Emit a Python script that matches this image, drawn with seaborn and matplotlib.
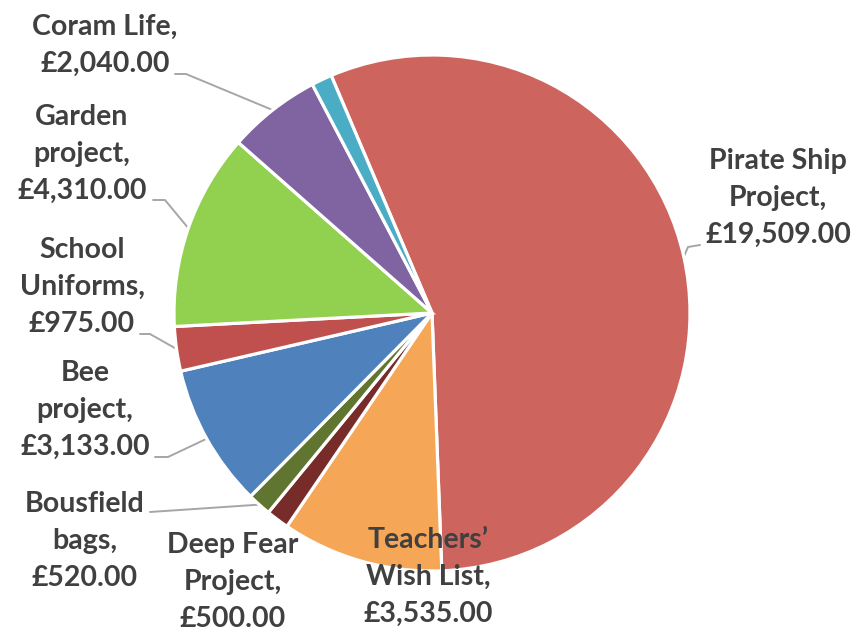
import numpy as np
import matplotlib
matplotlib.use("Agg")
import matplotlib.pyplot as plt
import seaborn as sns

# ---- data ----
projects = ["Pirate Ship Project", "Teachers\u2019 Wish List", "Deep Fear Project",
            "Bousfield bags", "Bee project", "School Uniforms", "Garden project",
            "Coram Life", ""]
amounts = [19509, 3535, 500, 520, 3133, 975, 4310, 2040, 450]
label_text = ["Pirate Ship\nProject,\n\u00a319,509.00",
              "Teachers\u2019\nWish List,\n\u00a33,535.00",
              "Deep Fear\nProject,\n\u00a3500.00",
              "Bousfield\nbags,\n\u00a3520.00",
              "Bee\nproject,\n\u00a33,133.00",
              "School\nUniforms,\n\u00a3975.00",
              "Garden\nproject,\n\u00a34,310.00",
              "Coram Life,\n\u00a32,040.00",
              ""]
colors = ["#CD655E", "#F5A657", "#772C2A", "#5F7530", "#4F81BD",
          "#C0504D", "#92D050", "#8064A2", "#4BACC6"]

# ---- layout (pixels, top-left origin) ----
W, H = 856, 632
CX, CY, R = 432, 313, 258
label_pos = [(778, 198), (428, 577), (233, 582), (85, 541), (85, 410),
             (82, 287), (82, 154), (105, 45), None]
leader_start = [(700, 245), None, None, (150, 512), (155, 457),
                (140, 334), (153, 200), (175, 74), None]
leader_elbow = [(688, 247), None, None, None, (168, 457),
                (150, 334), (165, 200), (186, 74), None]

sns.set_theme(style="white")
plt.rcParams["font.family"] = ["Lato", "DejaVu Sans"]

fig = plt.figure(figsize=(W / 100, H / 100), dpi=100)
ax = fig.add_axes([0, 0, 1, 1])

wedges, _ = ax.pie(amounts, colors=colors, startangle=113, counterclock=False,
                   radius=1, center=(0, 0),
                   wedgeprops=dict(edgecolor="white", linewidth=2.3))
ax.set_xlim(-CX / R, (W - CX) / R)
ax.set_ylim(-(H - CY) / R, CY / R)
ax.set_aspect("equal")
ax.axis("off")


def px(p):
    return ((p[0] - CX) / R, (CY - p[1]) / R)


for i, w in enumerate(wedges):
    if label_pos[i] is None:
        continue
    x, y = px(label_pos[i])
    ax.text(x, y, label_text[i], ha="center", va="center", fontsize=20.5,
            fontweight="bold", color="#404040", linespacing=1.52)
    if leader_start[i] is not None:
        mid = np.deg2rad((w.theta1 + w.theta2) / 2)
        ex, ey = np.cos(mid), np.sin(mid)
        pts = [px(leader_start[i])]
        if leader_elbow[i] is not None:
            pts.append(px(leader_elbow[i]))
        pts.append((ex, ey))
        xs, ys = zip(*pts)
        ax.plot(xs, ys, color="#A6A6A6", lw=1.4, zorder=0.5)

fig.savefig("out.png", dpi=100, facecolor="white")
